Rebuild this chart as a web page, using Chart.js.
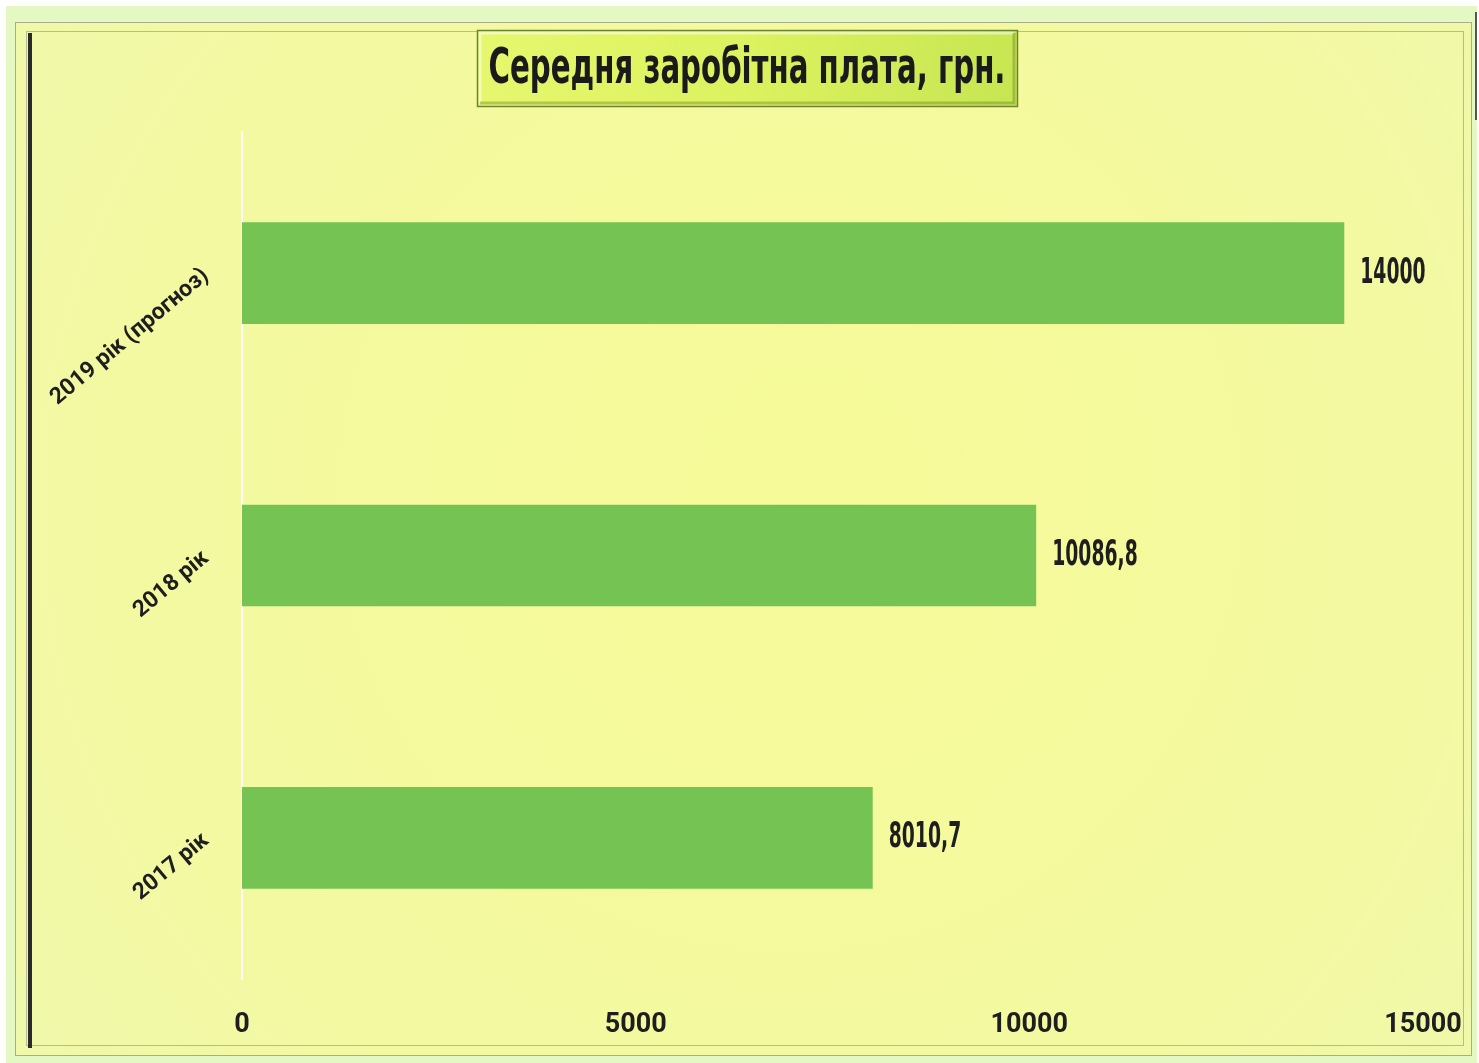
<!DOCTYPE html>
<html>
<head>
<meta charset="utf-8">
<script src="https://cdn.jsdelivr.net/npm/chart.js@4.4.1/dist/chart.umd.min.js"></script>
<style>
  html, body { margin: 0; padding: 0; background: #ffffff; }
  #wrap { width: 1479px; height: 1063px; position: relative; }
  canvas { display: block; }
</style>
</head>
<body>
<div id="wrap"><canvas id="c" width="1479" height="1063"></canvas></div>
<script>
const categories = ['2019 рік (прогноз)', '2018 рік', '2017 рік'];
const salaryValues = [14000, 10086.8, 8010.7];
const valueLabels = ['14000', '10086,8', '8010,7'];
const xTicks = [0, 5000, 10000, 15000];
const chartTitle = 'Середня заробітна плата, грн.';

const FONT = '"DejaVu Sans Condensed", "DejaVu Sans", sans-serif';
const TICK_FONT = 'Roboto, "Liberation Sans", sans-serif';

function drawCondensed(ctx, text, x, y, sx, align) {
  ctx.save();
  ctx.translate(x, y);
  ctx.scale(sx, 1);
  ctx.textAlign = align;
  ctx.fillText(text, 0, 0);
  ctx.restore();
}

const backgroundPlugin = {
  id: 'bgFrame',
  beforeDraw(chart) {
    const ctx = chart.ctx;
    const W = chart.width, H = chart.height;
    ctx.save();
    ctx.fillStyle = '#ffffff';
    ctx.fillRect(0, 0, W, H);
    ctx.fillStyle = '#e4f8c4';
    ctx.fillRect(6, 6, W - 8, H - 6);
    const g = ctx.createRadialGradient(W * 0.55, H * 0.45, 50, W * 0.5, H * 0.5, W * 0.75);
    g.addColorStop(0, '#f6fa98');
    g.addColorStop(0.6, '#f3f9a2');
    g.addColorStop(1, '#edf7b2');
    ctx.fillStyle = g;
    ctx.fillRect(15, 22, W - 22, H - 30);
    ctx.strokeStyle = '#a9ad8a';
    ctx.lineWidth = 1;
    ctx.strokeRect(15.5, 22.5, W - 23, H - 30);
    ctx.strokeStyle = '#b7bb92';
    ctx.strokeRect(26.5, 31.5, W - 42, H - 49);
    ctx.strokeStyle = '#2a2a2a';
    ctx.lineWidth = 4;
    ctx.beginPath();
    ctx.moveTo(30, 33);
    ctx.lineTo(30, H - 15);
    ctx.stroke();
    ctx.strokeStyle = '#555';
    ctx.lineWidth = 2;
    ctx.beginPath();
    ctx.moveTo(W - 3, 12);
    ctx.lineTo(W - 3, 120);
    ctx.stroke();
    ctx.restore();
  }
};

const titlePlugin = {
  id: 'boxedTitle',
  afterDraw(chart) {
    const ctx = chart.ctx;
    const bx = 477, by = 30, bw = 540, bh = 76;
    ctx.save();
    const tg = ctx.createLinearGradient(bx, by, bx + bw, by + bh);
    tg.addColorStop(0, '#e6f76e');
    tg.addColorStop(0.5, '#dcf25e');
    tg.addColorStop(1, '#c6e652');
    ctx.fillStyle = tg;
    ctx.fillRect(bx, by, bw, bh);
    ctx.strokeStyle = 'rgba(255,255,255,0.5)';
    ctx.lineWidth = 3;
    ctx.beginPath();
    ctx.moveTo(bx + 3, by + bh - 3); ctx.lineTo(bx + 3, by + 3); ctx.lineTo(bx + bw - 3, by + 3);
    ctx.stroke();
    ctx.strokeStyle = 'rgba(90,110,30,0.35)';
    ctx.beginPath();
    ctx.moveTo(bx + bw - 3, by + 3); ctx.lineTo(bx + bw - 3, by + bh - 3); ctx.lineTo(bx + 3, by + bh - 3);
    ctx.stroke();
    ctx.strokeStyle = '#6f8232';
    ctx.lineWidth = 1.5;
    ctx.strokeRect(bx + 0.5, by + 0.5, bw, bh);
    ctx.fillStyle = '#1a1a1a';
    ctx.font = 'bold 50px ' + FONT;
    ctx.textBaseline = 'middle';
    drawCondensed(ctx, chartTitle, bx + bw / 2, by + bh / 2 + 2, 0.65, 'center');
    ctx.restore();
  }
};

const valueLabelPlugin = {
  id: 'valueLabels',
  afterDatasetsDraw(chart) {
    const ctx = chart.ctx;
    const meta = chart.getDatasetMeta(0);
    ctx.save();
    ctx.font = 'bold 36px ' + FONT;
    ctx.fillStyle = '#1e1e1e';
    ctx.textBaseline = 'middle';
    meta.data.forEach((bar, i) => {
      drawCondensed(ctx, valueLabels[i], bar.x + 16, bar.y, 0.58, 'left');
    });
    ctx.restore();
  }
};

new Chart(document.getElementById('c'), {
  type: 'bar',
  data: {
    labels: categories,
    datasets: [{
      data: salaryValues,
      backgroundColor: '#75c453',
      borderWidth: 0,
      barPercentage: 0.9,
      categoryPercentage: 0.4
    }]
  },
  plugins: [backgroundPlugin, valueLabelPlugin, titlePlugin],
  options: {
    indexAxis: 'y',
    responsive: false,
    animation: false,
    devicePixelRatio: 1,
    layout: { padding: { left: 20, right: 56, top: 132, bottom: 20 } },
    plugins: {
      legend: { display: false },
      tooltip: { enabled: false },
      title: { display: false }
    },
    scales: {
      x: {
        min: 0,
        max: 15000,
        afterBuildTicks(scale) { scale.ticks = xTicks.map(v => ({ value: v })); },
        afterFit(scale) { scale.paddingLeft = 0; scale.paddingRight = 0; scale.height = 64; },
        grid: { display: false, drawTicks: false },
        border: { display: false },
        ticks: {
          padding: 30,
          maxRotation: 0,
          color: '#1e1e1e',
          font: { family: TICK_FONT, size: 27, weight: 'bold' },
          callback: v => String(v)
        }
      },
      y: {
        afterFit(scale) { scale.width = 222; scale.paddingTop = 0; scale.paddingBottom = 0; },
        grid: { display: false, drawTicks: false },
        border: { display: true, color: 'rgba(255,255,255,0.9)', width: 2 },
        ticks: {
          padding: 36,
          minRotation: 40,
          maxRotation: 40,
          color: '#1e1e1e',
          font: { family: TICK_FONT, size: 23, weight: 'bold' }
        }
      }
    }
  }
});
</script>
</body>
</html>
